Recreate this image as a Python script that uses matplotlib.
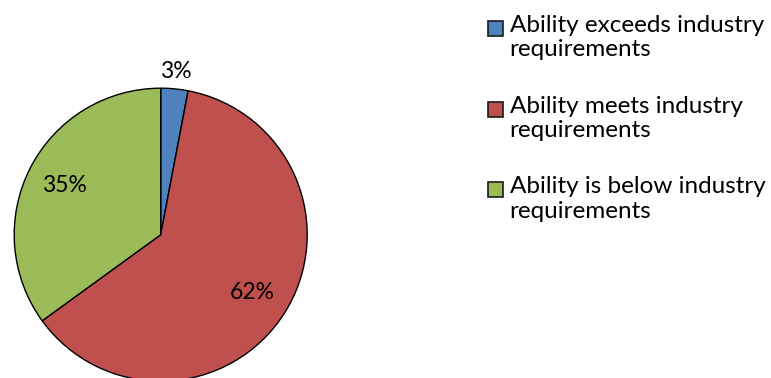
import matplotlib
matplotlib.use("Agg")
import matplotlib.pyplot as plt
from matplotlib.patches import Rectangle
from matplotlib.legend_handler import HandlerPatch
import numpy as np

categories = ["Ability exceeds industry\nrequirements",
              "Ability meets industry\nrequirements",
              "Ability is below industry\nrequirements"]
values = [3, 62, 35]
colors = ["#4F81BD", "#C0504D", "#9BBB59"]

plt.rcParams['font.family'] = ['Lato', 'DejaVu Sans']

W, H = 771, 378
fig = plt.figure(figsize=(W / 100, H / 100), dpi=100)
cx, cy, r = 160.7, 234.7, 146.5
ax = fig.add_axes([(cx - r) / W, (H - cy - r) / H, 2 * r / W, 2 * r / H])

wedges, texts, autotexts = ax.pie(values, colors=colors, startangle=90, counterclock=False,
                                  radius=1, autopct='%1.0f%%', pctdistance=0.74,
                                  wedgeprops=dict(edgecolor='black', linewidth=1.0),
                                  textprops=dict(fontsize=16.5, color='black'))
ax.set_xlim(-1, 1)
ax.set_ylim(-1, 1)
ax.set_aspect('equal')
ax.axis('off')
for w in wedges:
    w.set_clip_on(False)
# move the small slice label outside
w = wedges[0]
mid = np.deg2rad((w.theta1 + w.theta2) / 2)
autotexts[0].set_position((1.12 * np.cos(mid), 1.12 * np.sin(mid)))
for t in autotexts:
    t.set_clip_on(False)


class TopSquare(HandlerPatch):
    def create_artists(self, legend, orig_handle, xdescent, ydescent, width, height, fontsize, trans):
        s = 0.62 * fontsize
        p = Rectangle((-xdescent, -ydescent + height - s - 0.05 * fontsize), s, s,
                      facecolor=orig_handle.get_facecolor(), edgecolor='#1a1a1a',
                      linewidth=1.2, transform=trans)
        return [p]


handles = [Rectangle((0, 0), 1, 1, facecolor=c) for c in colors]
leg = fig.legend(handles, categories, loc='upper left', bbox_to_anchor=(488 / W, 1 - 15 / H),
                 frameon=False, fontsize=17.5, handler_map={Rectangle: TopSquare()},
                 handlelength=0.64, handleheight=2.0, handletextpad=0.25,
                 labelspacing=1.45, borderpad=0, borderaxespad=0)

fig.savefig("out.png", dpi=100)
